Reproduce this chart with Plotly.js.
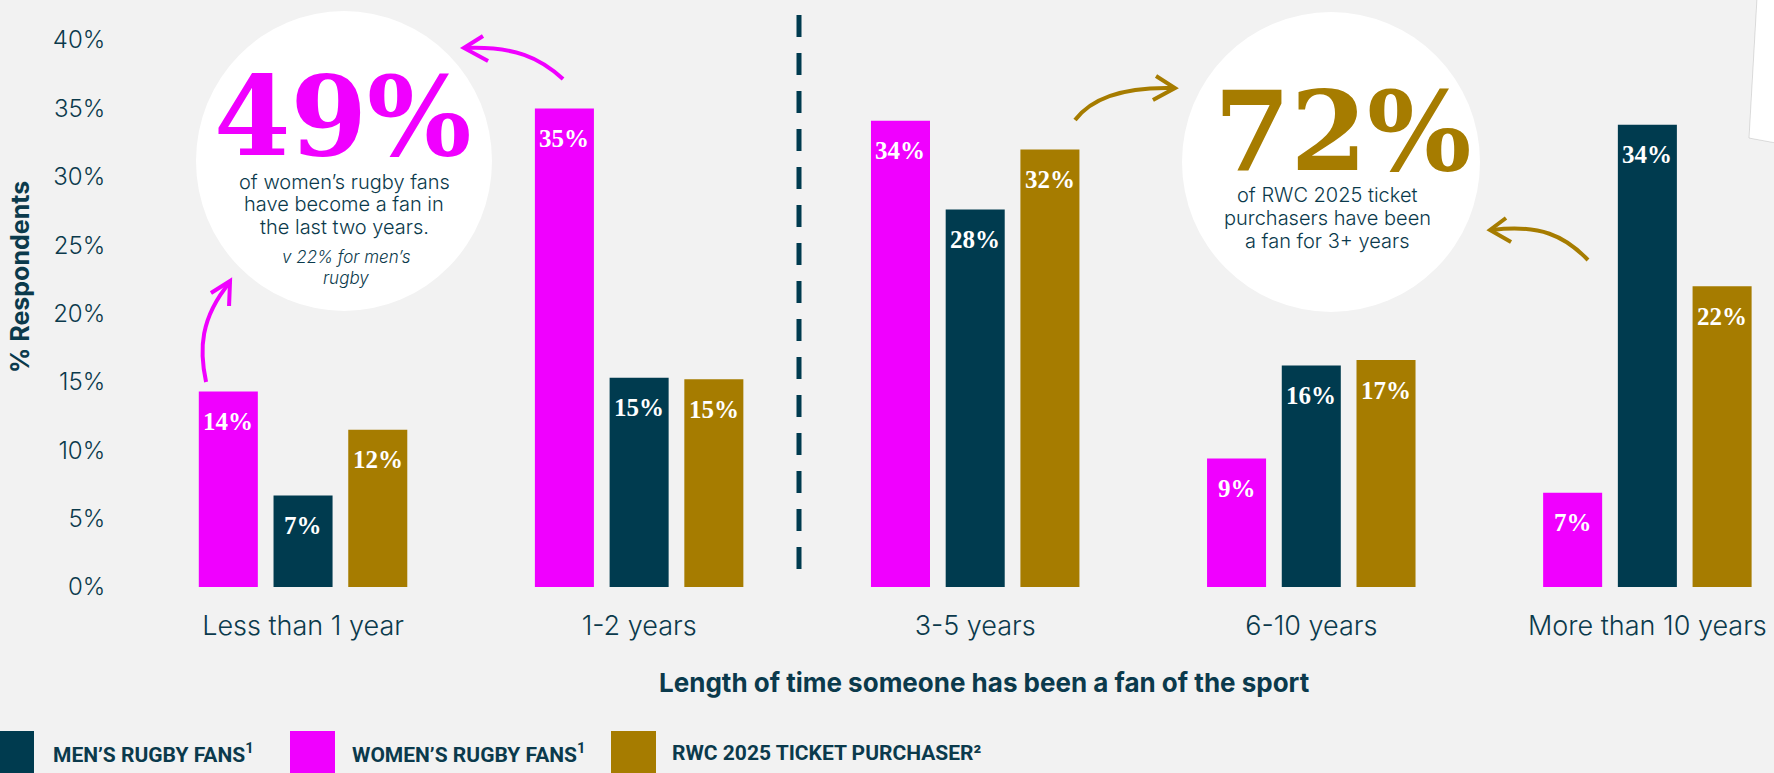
<!DOCTYPE html>
<html>
<head>
<meta charset="utf-8">
<script src="https://cdn.plot.ly/plotly-3.0.1.min.js"></script>
<style>
  html, body { margin: 0; padding: 0; background: #f2f2f2; }
  #chart { width: 1774px; height: 773px; }
</style>
</head>
<body>
<div id="chart"></div>
<script>
// data
const categories = ['Less than 1 year', '1-2 years', '3-5 years', '6-10 years', 'More than 10 years'];
const womenFans = [14.3, 35.0, 34.1, 9.4, 6.9];
const menFans = [6.7, 15.3, 27.6, 16.2, 33.8];
const ticketBuyers = [11.5, 15.2, 32.0, 16.6, 22.0];
const yTicks = [0, 5, 10, 15, 20, 25, 30, 35, 40];
const yTickText = yTicks.map(v => v + '%');

const seriesNames = ['WOMEN’S RUGBY FANS<sup>1</sup>', 'MEN’S RUGBY FANS<sup>1</sup>', 'RWC 2025 TICKET PURCHASER²'];
const legendOrder = [1, 0, 2];

const leftNote = ['of women’s rugby fans', 'have become a fan in', 'the last two years.'];
const leftSub = ['v 22% for men’s', 'rugby'];
const rightNote = ['of RWC 2025 ticket', 'purchasers have been', 'a fan for 3+ years'];

// colours / fonts
const NAVY = '#003b4f';
const PINK = '#f000ff';
const GOLD = '#a67c00';
const TEXT = '#0b3a4c';
const SANS = 'Inter, "Open Sans", sans-serif';
const SERIF = '"Liberation Serif", serif';
const colors = [PINK, NAVY, GOLD];

// plot area in pixels
const L = 135, R = 1765, T = 40, B = 587;
const px = x => (x - L) / (R - L);
const py = y => (B - y) / (B - T);
const pt = (x, y) => px(x).toFixed(4) + ',' + py(y).toFixed(4);

const bargap = 0.333;
const slot = (1 - bargap) / 3;

const series = [womenFans, menFans, ticketBuyers];
const traces = series.map((vals, k) => ({
    x: categories,
    y: vals,
    type: 'bar',
    name: seriesNames[k],
    marker: { color: colors[k] },
    hoverinfo: 'none'
}));

const annotations = [];

// value labels on the bars
series.forEach((vals, k) => {
    vals.forEach((v, i) => {
        annotations.push({
            x: i + (k - 1) * slot, y: v, xref: 'x', yref: 'y',
            text: Math.round(v) + '%', showarrow: false,
            yanchor: 'middle', yshift: -30,
            font: { family: SERIF, size: 25, color: '#ffffff', weight: 700 }
        });
    });
});

function note(text, x, y, font, anchor) {
    annotations.push({
        x: px(x), y: py(y), xref: 'paper', yref: 'paper',
        text: text, showarrow: false,
        xanchor: anchor || 'center', yanchor: 'middle',
        font: font
    });
}

// left circle texts
note('49%', 343, 116, { family: '"DejaVu Serif", serif', size: 110, color: PINK, weight: 700 });
leftNote.forEach((s, i) => note(s, 344, 182 + i * 22.5, { family: SANS, size: 20, color: TEXT, weight: 300 }));
leftSub.forEach((s, i) => note('<i>' + s + '</i>', 346, 257 + i * 21, { family: SANS, size: 17, color: TEXT, weight: 300 }));

// right circle texts
note('72%', 1343, 131, { family: '"DejaVu Serif", serif', size: 110, color: GOLD, weight: 700 });
rightNote.forEach((s, i) => note(s, 1327, 195 + i * 23, { family: SANS, size: 20, color: TEXT, weight: 300 }));

// axis titles
note('Length of time someone has been a fan of the sport', 984, 683, { family: SANS, size: 26, color: TEXT, weight: 700 });
annotations.push({
    x: px(20), y: py(277), xref: 'paper', yref: 'paper',
    xanchor: 'center', yanchor: 'middle',
    text: '% Respondents', showarrow: false, textangle: -90,
    font: { family: SANS, size: 25, color: TEXT, weight: 700 }
});

const shapes = [];

// legend squares + text
const legSquareX = [-11, 290, 611];
const legTextX = [51, 350, 670];
legendOrder.forEach((k, j) => {
    shapes.push({
        type: 'rect', xref: 'paper', yref: 'paper',
        x0: px(legSquareX[j]), x1: px(legSquareX[j] + 45), y0: py(777), y1: py(731),
        fillcolor: colors[k], line: { width: 0 }
    });
    note(seriesNames[k], legTextX[j], 753, { family: 'Roboto, sans-serif', size: 21, color: TEXT, weight: 700 }, 'left');
});

// white circles
shapes.push({ type: 'circle', xref: 'paper', yref: 'paper', layer: 'below',
    x0: px(196), x1: px(492), y0: py(311), y1: py(11), fillcolor: '#ffffff', line: { width: 0 } });
shapes.push({ type: 'circle', xref: 'paper', yref: 'paper', layer: 'below',
    x0: px(1182), x1: px(1480), y0: py(312), y1: py(12), fillcolor: '#ffffff', line: { width: 0 } });

// dashed divider
shapes.push({ type: 'line', xref: 'paper', yref: 'paper',
    x0: px(799), x1: px(799), y0: py(15), y1: py(583),
    line: { color: NAVY, width: 5, dash: '22px,16px' } });

// hand drawn arrows
function arrow(d, color) {
    shapes.push({ type: 'path', xref: 'paper', yref: 'paper', path: d,
        line: { color: color, width: 4 } });
}
arrow('M' + pt(206, 382) + ' C' + pt(199, 350) + ' ' + pt(200, 318) + ' ' + pt(230, 282), PINK);
arrow('M' + pt(211, 293) + ' L' + pt(230, 281) + ' L' + pt(229, 306), PINK);
arrow('M' + pt(563, 79) + ' C' + pt(540, 58) + ' ' + pt(515, 46) + ' ' + pt(465, 48), PINK);
arrow('M' + pt(488, 61) + ' L' + pt(464, 48) + ' L' + pt(483, 36), PINK);
arrow('M' + pt(1075, 120) + ' C' + pt(1090, 100) + ' ' + pt(1120, 87) + ' ' + pt(1172, 88), GOLD);
arrow('M' + pt(1156, 76) + ' L' + pt(1175, 88) + ' L' + pt(1153, 100), GOLD);
arrow('M' + pt(1588, 260) + ' C' + pt(1565, 236) + ' ' + pt(1540, 224) + ' ' + pt(1492, 230), GOLD);
arrow('M' + pt(1506, 218) + ' L' + pt(1490, 230) + ' L' + pt(1511, 242), GOLD);

// paper scrap top right
shapes.push({ type: 'path', xref: 'paper', yref: 'paper',
    path: 'M' + pt(1757, -2) + ' L' + pt(1776, -2) + ' L' + pt(1776, 143) + ' L' + pt(1749, 138) + ' Z',
    fillcolor: '#ffffff', line: { color: 'rgba(0,0,0,0.12)', width: 1 } });

const layout = {
    width: 1774, height: 773, autosize: false,
    margin: { l: L, r: 1774 - R, t: T, b: 773 - B },
    paper_bgcolor: '#f2f2f2', plot_bgcolor: '#f2f2f2',
    barmode: 'group', bargap: bargap, bargroupgap: 0.21,
    showlegend: false,
    xaxis: {
        type: 'category', range: [-0.5, 4.35],
        showgrid: false, zeroline: false, showline: false,
        ticks: 'outside', ticklen: 15, tickcolor: 'rgba(0,0,0,0)',
        tickfont: { family: SANS, size: 27, color: TEXT, weight: 300 }
    },
    yaxis: {
        range: [0, 40], tickvals: yTicks, ticktext: yTickText,
        showgrid: false, zeroline: false, showline: false,
        ticks: 'outside', ticklen: 24, tickcolor: 'rgba(0,0,0,0)',
        tickfont: { family: SANS, size: 24, color: TEXT, weight: 300 }
    },
    shapes: shapes,
    annotations: annotations
};

Plotly.newPlot('chart', traces, layout, { staticPlot: true });
</script>
</body>
</html>
